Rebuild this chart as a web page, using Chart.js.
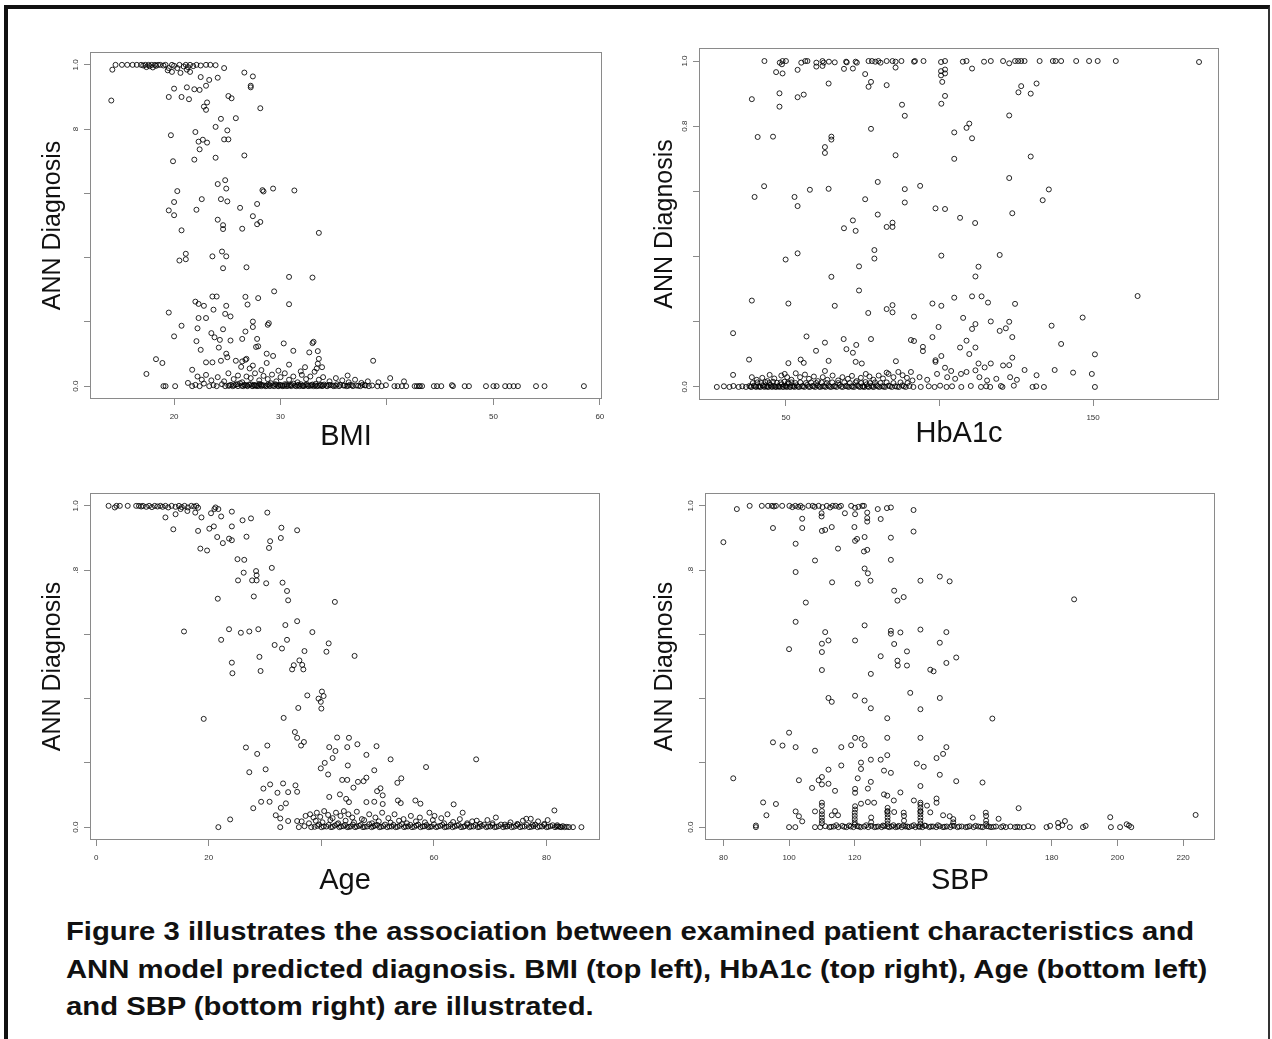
<!DOCTYPE html>
<html>
<head>
<meta charset="utf-8">
<script src="https://cdn.jsdelivr.net/npm/chart.js@4.4.1/dist/chart.umd.min.js"></script>
<style>
  html, body { margin: 0; padding: 0; background: #fff; }
  body { width: 1272px; height: 1039px; position: relative; overflow: hidden; }
  #frame { position: absolute; left: 4px; top: 5px; width: 1266px; height: 1100px; box-sizing: border-box;
           border-left: 4px solid #111; border-top: 4px solid #111; border-right: 2px solid #333; }
  .panel { position: absolute; }
  #caption { position: absolute; left: 66px; top: 913px; font: bold 25px "Liberation Sans", Arial, sans-serif;
             line-height: 37.5px; color: #111; white-space: nowrap; transform: scaleX(1.17); transform-origin: left top; }
</style>
</head>
<body>
<div id="frame"></div>
<div class="panel" style="left:0;top:0"><canvas id="bmiChart" width="636" height="460"></canvas></div>
<div class="panel" style="left:636px;top:0"><canvas id="hba1cChart" width="636" height="460"></canvas></div>
<div class="panel" style="left:0;top:460px"><canvas id="ageChart" width="636" height="445"></canvas></div>
<div class="panel" style="left:636px;top:460px"><canvas id="sbpChart" width="636" height="445"></canvas></div>
<div id="caption">Figure 3 illustrates the association between examined patient characteristics and<br>ANN model predicted diagnosis. BMI (top left), HbA1c (top right), Age (bottom left)<br>and SBP (bottom right) are illustrated.</div>
<script>
// y axis is shared by all four panels
const diagTicks = [0, 0.2, 0.4, 0.6, 0.8, 1.0];

// BMI vs ANN diagnosis (top left)
const bmiTicks = [20, 30, 40, 50, 60];
const bmiTickLabels = ['20', '30', '', '50', '60'];
const bmiDiagLabels = ['0.0', '', '', '', '8', '1.0'];
const bmiPoints = [
  [14.2,0.985],[14.5,1.0],[15.1,1.0],[15.6,1.0],[16.1,1.0],[16.5,1.0],[16.9,1.0],[17.1,0.998],[17.3,1.0],[17.4,0.993],
  [17.6,1.0],[17.7,0.996],[17.9,1.0],[18.0,0.992],[18.2,1.0],[18.3,0.997],[18.5,1.0],[18.7,1.0],[19.0,0.998],[19.2,1.0],
  [19.5,0.99],[19.8,1.0],[20.0,0.997],[20.3,0.99],[20.5,1.0],[20.9,0.995],[21.1,1.0],[21.3,0.993],[21.5,1.0],[21.8,0.996],
  [22.1,1.0],[22.5,0.998],[23.0,1.0],[23.4,1.0],[23.9,0.999],[24.7,0.99],[19.4,0.983],[19.8,0.978],[20.6,0.975],[21.2,0.985],
  [21.5,0.978],[26.6,0.976],[27.4,0.964],[22.5,0.962],[23.3,0.953],[24.1,0.96],[23.0,0.935],[21.9,0.924],[22.4,0.922],[21.2,0.93],
  [20.0,0.926],[27.2,0.935],[27.2,0.93],[19.5,0.90],[20.7,0.90],[21.4,0.893],[25.1,0.903],[25.4,0.896],[14.1,0.889],[23.1,0.883],
  [22.8,0.870],[23.0,0.860],[28.1,0.865],[24.4,0.832],[25.8,0.834],[23.9,0.807],[25.0,0.796],[19.7,0.781],[22.0,0.791],[22.3,0.761],
  [22.7,0.767],[23.1,0.758],[24.7,0.768],[25.1,0.768],[22.4,0.737],[26.6,0.718],[21.9,0.705],[23.9,0.711],[19.9,0.70],[24.1,0.629],
  [24.8,0.641],[24.9,0.615],[20.3,0.607],[28.4,0.606],[28.3,0.61],[29.3,0.615],[31.3,0.609],[22.6,0.582],[24.4,0.582],[25.0,0.575],
  [20.0,0.573],[19.5,0.547],[22.1,0.549],[26.2,0.555],[20.0,0.532],[27.4,0.529],[24.1,0.518],[27.8,0.567],[28.1,0.511],[27.8,0.504],
  [24.6,0.501],[24.6,0.489],[26.4,0.490],[20.7,0.485],[33.6,0.477],[21.1,0.412],[21.1,0.395],[20.5,0.391],[23.6,0.404],[24.5,0.419],
  [24.9,0.404],[24.6,0.367],[26.8,0.370],[30.8,0.340],[33.0,0.338],[29.4,0.295],[23.6,0.279],[24.0,0.279],[26.7,0.278],[27.9,0.274],
  [19.5,0.229],[22.0,0.263],[22.3,0.256],[22.8,0.250],[24.9,0.250],[26.9,0.254],[30.8,0.255],[23.7,0.238],[24.8,0.225],[25.3,0.217],
  [22.3,0.212],[23.0,0.212],[20.7,0.188],[27.4,0.201],[27.4,0.184],[28.9,0.196],[28.8,0.191],[22.2,0.180],[24.6,0.177],[26.7,0.170],
  [23.5,0.165],[23.8,0.152],[24.3,0.144],[20.0,0.155],[22.1,0.140],[25.3,0.142],[26.4,0.147],[27.8,0.147],[30.3,0.133],[33.0,0.134],
  [33.1,0.138],[22.5,0.113],[24.2,0.120],[27.7,0.122],[27.9,0.124],[31.2,0.110],[32.7,0.105],[33.5,0.109],[24.9,0.101],[25.0,0.090],
  [28.7,0.101],[29.3,0.094],[18.3,0.084],[18.9,0.072],[23.0,0.074],[23.6,0.074],[24.4,0.079],[25.8,0.079],[26.4,0.077],[26.7,0.082],
  [26.8,0.085],[27.4,0.064],[28.7,0.072],[30.8,0.067],[38.7,0.079],[17.4,0.038],[21.7,0.051],[32.3,0.059],[33.9,0.059],[36.3,0.033],
  [40.3,0.025],[41.6,0.015],
  [19.0,0],[19.2,0],[20.1,0],[21.3,0.01],[21.7,0],[22.0,0.004],[22.4,0],[22.8,0.008],[23.3,0],[23.7,0.003],
  [24.0,0],[24.5,0.006],[24.8,0],[25.2,0.002],[25.5,0],[25.8,0.005],[26.0,0],[26.2,0.009],[26.5,0],[26.7,0.003],
  [26.9,0],[27.2,0.006],[27.4,0],[27.6,0.002],[27.8,0],[28.0,0.007],[28.2,0],[28.3,0.003],[28.6,0],[28.8,0.005],
  [29.0,0],[29.1,0.009],[29.4,0],[29.6,0.004],[29.8,0],[30.0,0.002],[30.2,0],[30.4,0.006],[30.6,0],[30.9,0.003],
  [31.0,0],[31.2,0.008],[31.5,0],[31.7,0.004],[31.8,0],[32.1,0.002],[32.2,0],[32.5,0.006],[32.6,0],[32.9,0.003],
  [33.1,0],[33.3,0.007],[33.4,0],[33.7,0.002],[33.9,0],[34.1,0.005],[34.4,0],[34.7,0.003],[35.0,0],[35.3,0.006],
  [35.5,0],[35.9,0.002],[36.2,0],[36.5,0.004],[36.8,0],[37.1,0.002],[37.5,0],[37.9,0.003],[38.3,0],[38.6,0.002],
  [39.1,0],[39.5,0],[39.9,0.003],[40.7,0],[41.0,0],[41.4,0],[41.8,0],[42.6,0],[42.8,0],[43.0,0],
  [43.1,0],[43.3,0],[44.4,0],[44.7,0],[45.1,0],[46.1,0.003],[46.2,0],[47.3,0],[47.7,0],[49.3,0],
  [50.0,0],[50.3,0],[51.1,0],[51.5,0],[51.9,0],[52.3,0],[54.0,0],[54.8,0],[58.5,0],
  [25.1,0.001],[25.35,0.004],[25.65,0.002],[25.95,0.006],[26.35,0.001],[26.6,0.004],[26.85,0.002],[27.05,0.005],[27.3,0.001],[27.5,0.004],
  [27.7,0.002],[27.95,0.001],[28.15,0.005],[28.45,0.002],[28.7,0.001],[28.95,0.004],[29.25,0.002],[29.5,0.006],[29.75,0.001],[29.95,0.004],
  [30.15,0.002],[30.35,0.001],[30.55,0.005],[30.75,0.002],[31.05,0.004],[31.35,0.001],[31.6,0.003],[31.9,0.006],[32.05,0.001],[32.35,0.004],
  [32.55,0.002],[32.8,0.001],[33.0,0.005],[33.25,0.002],[33.55,0.001],[33.8,0.004],[34.0,0.002],[34.3,0.001],[34.55,0.004],[34.9,0.002],
  [35.2,0.001],[35.6,0.004],[36.0,0.002],[36.35,0.001],[36.7,0.003],[37.3,0.001],[37.7,0.004],[38.0,0.002],
  [22.2,0.03],[22.6,0.02],[23.0,0.035],[23.5,0.018],[24.1,0.028],[24.7,0.015],[25.1,0.04],[25.6,0.022],[26.0,0.033],[26.4,0.012],
  [26.8,0.03],[27.2,0.025],[27.6,0.04],[28.0,0.018],[28.4,0.032],[28.8,0.022],[29.2,0.036],[29.6,0.015],[30.0,0.028],[30.4,0.04],
  [30.8,0.02],[31.2,0.03],[31.6,0.012],[32.0,0.035],[32.4,0.022],[32.8,0.03],[33.2,0.045],[33.6,0.02],[34.0,0.028],[34.6,0.015],
  [35.2,0.025],[35.8,0.018],[36.4,0.012],[37.0,0.02],[37.6,0.01],[38.2,0.015],[39.2,0.012],[33.5,0.07],[33.4,0.055],[33.6,0.085],
  [28.2,0.05],[29.8,0.048],[31.9,0.046],[27.1,0.055],[26.3,0.06]
];

// HbA1c vs ANN diagnosis (top right)
const hba1cTicks = [50, 100, 150];
const hba1cTickLabels = ['50', '', '150'];
const hba1cDiagLabels = ['0.0', '', '', '', '0.8', '1.0'];
const hba1cPoints = [
  [43.0,1.0],[48.0,0.995],[48.9,1.0],[50.0,1.0],[55.0,0.995],[56.3,1.0],[57.0,1.0],[59.9,0.995],[61.9,1.0],[62.3,0.995],
  [64.0,0.998],[65.9,0.996],[69.6,0.998],[69.8,0.996],[72.7,0.998],[73.1,0.995],[76.9,1.0],[78.0,1.0],[79.1,0.998],[80.1,1.0],
  [80.8,0.995],[82.8,1.0],[84.7,1.0],[85.7,0.998],[87.6,1.0],[91.7,0.998],[92.0,1.0],[94.8,1.0],[100.5,0.997],[101.8,1.0],
  [107.6,0.998],[108.8,1.0],[114.5,0.998],[116.7,1.0],[120.7,1.0],[122.7,0.993],[124.6,1.0],[125.6,1.0],[126.6,1.0],[127.7,1.0],
  [132.6,1.0],[136.9,1.0],[137.8,1.0],[139.6,1.0],[144.5,1.0],[148.7,1.0],[151.5,1.0],[157.4,1.0],[184.5,0.997],
  [48.7,0.99],[59.9,0.983],[61.9,0.985],[68.9,0.976],[71.8,0.977],[85.7,0.98],[100.5,0.969],[101.8,0.974],[101.8,0.962],[110.6,0.977],
  [100.5,0.956],[100.9,0.936],[46.8,0.966],[48.9,0.962],[53.8,0.973],[75.8,0.960],[63.9,0.931],[76.9,0.921],[77.7,0.936],[82.8,0.926],
  [126.6,0.923],[131.6,0.931],[125.7,0.904],[129.7,0.900],[101.8,0.893],[38.9,0.883],[47.9,0.901],[53.8,0.889],[55.8,0.897],[47.9,0.860],
  [87.8,0.866],[88.7,0.832],[100.6,0.869],[122.7,0.833],
  [40.8,0.767],[45.8,0.768],[64.8,0.768],[64.8,0.759],[77.7,0.792],[108.8,0.795],[109.7,0.808],[104.8,0.781],[110.6,0.763],[62.7,0.736],
  [62.7,0.718],[85.7,0.711],[104.8,0.700],[129.7,0.707],[42.9,0.616],[39.8,0.583],[57.8,0.605],[63.9,0.608],[79.9,0.629],[88.7,0.607],
  [93.7,0.617],[122.7,0.641],[135.6,0.606],[133.6,0.573],[52.8,0.583],[53.8,0.555],[75.8,0.576],[88.7,0.566],[98.7,0.548],[101.8,0.546],
  [123.7,0.533],[79.9,0.529],[106.7,0.519],[111.6,0.503],[71.8,0.511],[68.9,0.487],[72.7,0.479],[82.8,0.491],[84.7,0.491],[84.7,0.504],
  [78.8,0.420],[78.8,0.394],[53.8,0.410],[49.9,0.391],[100.6,0.403],[119.6,0.405],[73.8,0.370],[112.7,0.369],[64.8,0.338],[111.7,0.339],
  [73.8,0.296],
  [38.9,0.265],[50.8,0.256],[65.9,0.249],[97.7,0.256],[100.6,0.249],[104.8,0.274],[110.6,0.278],[113.7,0.278],[115.8,0.259],[124.6,0.255],
  [164.5,0.279],[76.8,0.227],[82.8,0.239],[84.7,0.251],[84.7,0.229],[91.7,0.216],[107.7,0.212],[111.7,0.193],[110.6,0.178],[116.7,0.201],
  [119.6,0.172],[121.6,0.180],[122.7,0.200],[136.5,0.188],[146.6,0.213],[32.8,0.165],[56.7,0.155],[68.8,0.147],[77.7,0.147],[62.7,0.136],
  [72.9,0.129],[90.7,0.144],[91.7,0.141],[97.7,0.153],[99.7,0.184],[108.8,0.142],[123.7,0.153],[139.6,0.132],[59.8,0.111],[69.7,0.116],
  [71.8,0.105],[94.6,0.123],[94.6,0.110],[106.7,0.121],[111.7,0.121],[109.7,0.101],[38.0,0.084],[50.8,0.073],[54.8,0.084],[55.8,0.074],
  [63.9,0.080],[72.7,0.077],[74.7,0.072],[85.8,0.079],[98.7,0.077],[98.7,0.082],[100.6,0.095],[112.7,0.072],[114.7,0.060],[116.7,0.072],
  [120.7,0.066],[122.7,0.067],[123.7,0.090],[127.7,0.052],[137.5,0.052],[143.5,0.044],[149.6,0.040],[150.6,0.100],[131.6,0.036],[32.8,0.037],
  [44.7,0.037],[62.7,0.049],[82.8,0.044],[90.7,0.046],[101.8,0.059],[103.8,0.049],[108.8,0.046],[111.7,0.051],
  [38.9,0.03],[40.5,0.022],[42.3,0.028],[44.0,0.018],[46.2,0.026],[48.5,0.035],[49.6,0.04],[50.4,0.03],[51.8,0.022],[53.2,0.042],
  [54.6,0.03],[56.2,0.038],[57.5,0.025],[59.1,0.032],[60.4,0.018],[62.0,0.03],[63.5,0.022],[65.2,0.035],[67.0,0.02],[68.4,0.03],
  [70.2,0.025],[71.5,0.034],[73.0,0.018],[74.4,0.028],[76.0,0.04],[77.2,0.032],[78.5,0.022],[80.2,0.035],[81.6,0.026],[83.4,0.04],
  [85.0,0.03],[86.6,0.046],[88.0,0.036],[89.4,0.028],[91.2,0.02],[93.5,0.03],[96.0,0.022],[99.2,0.04],[102.5,0.03],[105.1,0.025],
  [107.0,0.04],[113.0,0.03],[115.5,0.02],[118.5,0.025],[123.0,0.03],[125.2,0.022],
  [27.5,0],[29.8,0.002],[31.6,0],[32.9,0.003],[34.6,0],[35.8,0.002],[37.0,0],[38.1,0.003],[38.8,0],[39.6,0.004],
  [40.3,0],[41.0,0.002],[41.7,0],[42.4,0.005],[43.0,0],[43.6,0.002],[44.3,0],[44.9,0.006],[45.5,0],[46.1,0.003],
  [46.8,0],[47.4,0.002],[48.0,0],[48.6,0.008],[49.2,0],[49.8,0.004],[50.3,0],[50.9,0.01],[51.5,0],[52.1,0.003],
  [52.8,0],[53.5,0.005],[54.3,0],[55.2,0.002],[56.0,0],[56.9,0.006],[57.8,0],[58.6,0.003],[59.5,0],[60.3,0.005],
  [61.2,0],[62.0,0.002],[62.9,0],[63.8,0.004],[64.7,0],[65.6,0.002],[66.5,0],[67.5,0.006],[68.5,0],[69.4,0.003],
  [70.4,0],[71.3,0.002],[72.2,0],[73.2,0.005],[74.1,0],[74.9,0.002],[75.6,0],[76.3,0.008],[77.0,0],[77.8,0.003],
  [78.6,0],[79.5,0.005],[80.4,0],[81.3,0.002],[82.3,0],[83.4,0.004],[84.5,0],[85.6,0.002],[86.8,0],[87.9,0.005],
  [89.0,0],[90.2,0.003],[91.5,0],[93.9,0],[96.5,0.002],[98.4,0],[100.2,0.004],[102.3,0],[104.1,0.002],[107.1,0],
  [110.2,0.003],[113.5,0],[115.2,0.002],[116.5,0],[120.0,0.003],[120.5,0],[124.2,0.004],[130.3,0],[131.5,0.002],[134.0,0],
  [150.6,0],
  [38.5,0.001],[39.2,0.012],[40.0,0.002],[40.7,0.014],[41.4,0.001],[42.0,0.012],[42.7,0.003],[43.3,0.015],[44.0,0.001],[44.6,0.012],
  [45.2,0.002],[45.8,0.016],[46.5,0.001],[47.1,0.013],[47.7,0.002],[48.3,0.014],[48.9,0.001],[49.5,0.016],[50.0,0.002],[50.6,0.012],
  [51.2,0.001],[51.8,0.014],[52.5,0.002],[53.1,0.012],[53.9,0.001],[54.7,0.014],[55.6,0.002],[56.5,0.012],[57.3,0.001],[58.2,0.014],
  [59.0,0.002],[59.9,0.012],[60.8,0.001],[61.6,0.014],[62.5,0.002],[63.3,0.012],[64.2,0.001],[65.1,0.014],[66.0,0.002],[67.0,0.012],
  [68.0,0.001],[69.0,0.014],[69.9,0.002],[70.8,0.012],[71.7,0.001],[72.7,0.014],[73.6,0.002],[74.5,0.012],[75.2,0.001],[75.9,0.015],
  [76.6,0.002],[77.4,0.012],[78.2,0.001],[79.0,0.014],[79.9,0.002],[80.8,0.012],[81.8,0.001],[82.8,0.014],[83.9,0.002],[85.0,0.012],
  [86.2,0.001],[87.3,0.014],[88.4,0.002],[89.6,0.012]
];

// Age vs ANN diagnosis (bottom left)
const ageTicks = [0, 20, 40, 60, 80];
const ageTickLabels = ['0', '20', '', '60', '80'];
const ageDiagLabels = ['0.0', '', '', '', '.8', '1.0'];
const agePoints = [
  [2.2,1.0],[3.3,0.995],[3.6,1.0],[4.2,1.0],[5.6,1.0],[7.1,1.0],[7.6,1.0],[8.0,0.998],[8.3,1.0],[8.9,0.997],
  [9.4,1.0],[9.9,0.996],[10.4,1.0],[10.9,0.998],[11.4,1.0],[11.8,0.997],[12.3,1.0],[12.8,0.995],[13.4,1.0],[14.1,0.997],
  [14.7,1.0],[15.2,0.996],[15.7,1.0],[16.3,0.995],[16.9,1.0],[17.4,0.998],[17.8,1.0],[18.1,0.994],[21.0,0.99],[21.2,0.995],
  [12.3,0.964],[13.7,0.927],[14.1,0.974],[15.0,0.99],[16.2,0.984],[17.6,0.979],[18.7,0.964],[20.4,0.977],[22.2,0.967],[21.7,0.99],
  [24.1,0.982],[18.1,0.922],[20.1,0.929],[20.9,0.936],[24.1,0.936],[26.0,0.955],[27.5,0.961],[30.4,0.979],[21.5,0.903],[22.5,0.884],
  [23.6,0.898],[24.1,0.893],[26.7,0.904],[30.9,0.890],[32.8,0.900],[32.9,0.932],[35.7,0.924],[30.7,0.869],[18.5,0.867],[19.7,0.861],
  [25.1,0.834],[26.3,0.832],[31.2,0.807],[26.2,0.792],[28.4,0.797],[28.5,0.784],[27.7,0.768],[28.5,0.768],[25.2,0.768],[30.2,0.759],
  [33.1,0.761],[33.9,0.735],[34.1,0.706],[28.0,0.718],[21.6,0.711],[42.4,0.701],
  [33.6,0.629],[35.7,0.641],[23.6,0.616],[25.7,0.605],[27.2,0.609],[28.8,0.616],[38.4,0.607],[15.6,0.609],[22.2,0.583],[31.7,0.567],
  [33.9,0.583],[33.0,0.556],[41.3,0.572],[40.9,0.546],[37.0,0.548],[45.9,0.533],[29.0,0.530],[24.1,0.512],[36.1,0.519],[36.6,0.505],
  [35.1,0.504],[34.8,0.491],[36.8,0.491],[29.2,0.486],[24.2,0.479],[37.5,0.410],[39.5,0.400],[40.4,0.408],[40.1,0.422],[39.9,0.390],
  [40.0,0.369],[35.9,0.371],[33.3,0.340],[19.1,0.337],
  [35.3,0.296],[35.7,0.278],[36.9,0.265],[36.4,0.254],[42.8,0.279],[44.9,0.278],[41.4,0.249],[42.5,0.237],[44.6,0.249],[46.4,0.258],
  [49.8,0.252],[26.6,0.248],[30.4,0.254],[28.6,0.228],[48.0,0.225],[52.3,0.211],[67.5,0.211],[42.0,0.215],[40.6,0.200],[39.9,0.183],
  [44.7,0.192],[58.6,0.187],[27.2,0.171],[30.1,0.180],[49.4,0.177],[41.2,0.164],[43.7,0.147],[44.6,0.147],[46.5,0.141],[47.5,0.143],
  [48.0,0.154],[54.2,0.152],[53.5,0.138],[30.9,0.133],[33.2,0.136],[35.4,0.130],[45.7,0.123],[29.7,0.120],[50.5,0.121],[49.9,0.112],
  [32.2,0.107],[34.1,0.109],[35.7,0.110],[50.9,0.099],[41.4,0.094],[43.3,0.102],[44.4,0.088],[44.9,0.078],[29.3,0.079],[30.8,0.079],
  [33.7,0.074],[32.8,0.060],[27.9,0.059],[48.0,0.078],[49.4,0.079],[50.9,0.072],[53.6,0.083],[54.1,0.075],[56.7,0.083],[57.6,0.073],
  [63.5,0.071],[65.1,0.045],[81.4,0.052],[67.6,0.020],[76.4,0.026],[77.2,0.026],[31.9,0.037],[32.7,0.027],[34.1,0.019],[35.7,0.019],
  [23.8,0.024],[21.7,0],[32.7,0],
  [37.2,0.035],[38.0,0.04],[38.6,0.03],[39.2,0.045],[39.8,0.032],[40.5,0.05],[41.2,0.038],[42.0,0.028],[42.6,0.045],[43.4,0.035],
  [44.0,0.05],[44.8,0.04],[45.5,0.03],[46.3,0.048],[47.2,0.025],[48.5,0.04],[49.6,0.03],[50.8,0.045],[51.9,0.028],[53.0,0.04],
  [54.6,0.025],[55.9,0.035],[57.5,0.03],[59.2,0.045],[60.1,0.035],[61.3,0.028],[62.4,0.04],[64.6,0.025],[66.8,0.018],[69.5,0.022],
  [71.0,0.03],[73.6,0.015],[75.8,0.02],[78.5,0.018],[80.2,0.022],
  [36.5,0.018],[37.8,0.012],[39.0,0.02],[40.2,0.015],[41.6,0.022],[43.0,0.012],[44.3,0.02],[45.8,0.015],[47.6,0.022],[49.0,0.012],
  [50.2,0.018],[52.3,0.014],[53.8,0.02],[55.2,0.012],[56.8,0.018],[58.4,0.015],[59.8,0.022],[61.8,0.012],[63.4,0.016],[65.9,0.012],
  [68.2,0.01],[70.4,0.012],[72.6,0.008],[74.8,0.01],[77.5,0.008],[79.6,0.01],[81.9,0.006],
  [36.0,0],[37.0,0.003],[38.2,0],[39.3,0.004],[40.0,0],[40.9,0.002],[41.7,0],[42.4,0.005],[43.2,0],[43.9,0.003],
  [44.6,0],[45.2,0.002],[46.0,0],[46.7,0.004],[47.4,0],[48.1,0.002],[48.9,0],[49.5,0.005],[50.3,0],[51.0,0.003],
  [51.7,0],[52.5,0.002],[53.2,0],[53.9,0.004],[54.7,0],[55.4,0.002],[56.1,0],[56.9,0.005],[57.6,0],[58.3,0.003],
  [59.0,0],[59.6,0.002],[60.4,0],[61.1,0.004],[61.9,0],[62.6,0.002],[63.3,0],[64.1,0.005],[64.8,0],[65.5,0.003],
  [66.3,0],[67.0,0.002],[67.8,0],[68.5,0.004],[69.3,0],[70.0,0.002],[70.8,0],[71.5,0.003],[72.3,0],[73.0,0.002],
  [73.8,0],[74.6,0.004],[75.3,0],[76.1,0.002],[76.9,0],[77.7,0.003],[78.4,0],[79.2,0.002],[80.0,0],[80.7,0.003],
  [81.5,0],[82.1,0.002],[82.6,0],[83.2,0],[84.0,0],[84.7,0],[86.2,0],
  [38.8,0.001],[39.6,0.008],[40.4,0.002],[41.3,0.007],[42.0,0.001],[42.8,0.009],[43.5,0.002],[44.2,0.007],[44.9,0.001],[45.6,0.008],
  [46.3,0.002],[47.0,0.007],[47.7,0.001],[48.5,0.009],[49.2,0.002],[49.9,0.007],[50.6,0.001],[51.3,0.008],[52.1,0.002],[52.8,0.007],
  [53.5,0.001],[54.3,0.009],[55.0,0.002],[55.8,0.007],[56.5,0.001],[57.2,0.008],[58.0,0.002],[58.7,0.007],[59.3,0.001],[60.0,0.009],
  [60.7,0.002],[61.5,0.007],[62.2,0.001],[63.0,0.008],[63.7,0.002],[64.4,0.007],[65.2,0.001],[65.9,0.008],[66.6,0.002],[67.4,0.007],
  [68.1,0.001],[68.9,0.008],[69.6,0.002],[70.4,0.007],[71.1,0.001],[71.9,0.008],[72.7,0.002],[73.4,0.007],[74.2,0.001],[74.9,0.008],
  [75.7,0.002],[76.5,0.007],[77.3,0.001],[78.0,0.008],[78.8,0.002],[79.6,0.007],[80.3,0.001],[81.1,0.006],[81.8,0.002],[82.4,0.001],
  [82.9,0.003],[83.6,0.001]
];

// SBP vs ANN diagnosis (bottom right)
const sbpTicks = [80, 100, 120, 140, 160, 180, 200, 220];
const sbpTickLabels = ['80', '100', '120', '', '', '180', '200', '220'];
const sbpDiagLabels = ['0.0', '', '', '', '.8', '1.0'];
const sbpPoints = [
  [84.1,0.99],[88.0,1.0],[91.7,1.0],[93.6,1.0],[94.8,1.0],[95.4,0.998],[96.0,1.0],[97.9,1.0],[100.1,1.0],[101.0,0.996],
  [101.9,1.0],[102.8,0.997],[103.5,1.0],[104.1,0.995],[105.9,1.0],[107.2,1.0],[107.8,0.997],[109.0,1.0],[110.2,0.996],[111.5,1.0],
  [112.5,0.995],[113.3,1.0],[114.2,1.0],[115.2,0.997],[115.8,1.0],[118.9,1.0],[120.1,0.994],[121.1,0.997],[122.3,1.0],[122.8,1.0],
  [127.0,0.99],[129.8,0.993],[131.0,0.995],[137.9,0.987],
  [80.0,0.887],[109.9,0.977],[109.9,0.967],[117.0,0.977],[120.1,0.974],[123.8,0.979],[123.8,0.962],[123.8,0.951],[127.9,0.959],[104.0,0.960],
  [104.0,0.931],[95.1,0.931],[110.0,0.922],[111.0,0.925],[113.0,0.934],[119.9,0.934],[137.9,0.920],[102.0,0.882],[120.1,0.891],[120.7,0.897],
  [123.0,0.903],[131.0,0.901],[114.9,0.867],[122.8,0.858],[123.8,0.863],[131.0,0.832],[107.9,0.830],[123.0,0.805],[124.0,0.790],[102.0,0.794],
  [113.1,0.762],[120.9,0.758],[124.8,0.767],[140.0,0.767],[145.9,0.780],[148.9,0.765],[132.0,0.736],[134.9,0.716],[133.0,0.705],[105.1,0.699],
  [186.8,0.709],
  [102.0,0.639],[123.0,0.628],[111.0,0.607],[131.0,0.611],[131.0,0.602],[133.9,0.606],[140.0,0.615],[147.9,0.607],[112.0,0.581],[120.1,0.581],
  [110.0,0.571],[132.0,0.570],[145.9,0.574],[100.0,0.554],[110.0,0.545],[135.9,0.547],[127.9,0.532],[133.0,0.518],[133.1,0.503],[135.9,0.503],
  [147.9,0.511],[150.9,0.528],[110.0,0.489],[124.9,0.477],[143.0,0.490],[144.0,0.485],[136.9,0.418],[112.0,0.402],[113.0,0.390],[120.1,0.409],
  [123.0,0.394],[145.9,0.402],[124.9,0.370],[140.0,0.367],[129.9,0.339],[161.9,0.338],
  [100.0,0.294],[95.1,0.264],[98.0,0.254],[102.0,0.249],[107.9,0.238],[115.9,0.249],[118.9,0.255],[120.1,0.278],[122.1,0.275],[123.0,0.255],
  [129.9,0.278],[140.0,0.278],[147.9,0.249],[146.9,0.228],[144.9,0.215],[129.9,0.224],[127.9,0.210],[124.9,0.210],[121.9,0.201],[121.9,0.181],
  [138.9,0.198],[141.0,0.188],[115.9,0.192],[112.0,0.179],[128.9,0.176],[131.0,0.169],[145.9,0.163],[83.0,0.152],[103.0,0.146],[109.0,0.146],
  [110.0,0.156],[120.9,0.152],[124.9,0.141],[150.9,0.143],[158.9,0.139],[107.0,0.122],[110.0,0.133],[112.0,0.135],[114.0,0.113],[120.1,0.119],
  [120.1,0.107],[124.0,0.120],[140.0,0.128],[128.9,0.102],[129.9,0.098],[133.9,0.108],[131.9,0.083],[138.0,0.083],[140.0,0.076],[142.0,0.067],
  [144.9,0.089],[144.9,0.076],[92.1,0.077],[96.0,0.072],[110.0,0.076],[110.0,0.067],[120.1,0.065],[121.9,0.073],[124.0,0.078],[125.9,0.076],
  [93.1,0.037],[102.0,0.049],[103.0,0.034],[104.0,0.018],[107.9,0.049],[110.0,0.050],[114.0,0.050],[114.9,0.037],[113.0,0.037],[120.1,0.055],
  [129.9,0.048],[132.0,0.047],[134.9,0.045],[140.0,0.048],[143.0,0.046],[146.9,0.037],[148.9,0.034],[155.9,0.030],[159.9,0.045],[169.9,0.059],
  [184.0,0.019],[197.8,0.031],[223.8,0.038],[163.8,0.026],[181.9,0.013],[202.8,0.009],
  [110,0.04],[110,0.03],[110,0.02],[110,0.012],[120,0.045],[120,0.035],[120,0.025],[120,0.015],[120,0.008],[130,0.06],
  [130,0.05],[130,0.04],[130,0.03],[130,0.02],[130,0.01],[140,0.07],[140,0.06],[140,0.05],[140,0.04],[140,0.03],
  [140,0.02],[140,0.01],[150,0.025],[150,0.015],[160,0.035],[160,0.02],[160,0.01],[125,0.03],[125,0.015],[135,0.035],
  [135,0.02],
  [89.9,0.005],[89.9,0],[100.0,0],[101.9,0],[107.9,0],[109.5,0],[111.0,0.003],[112.3,0],[113.6,0.002],[115.0,0],
  [116.2,0.004],[117.5,0],[118.8,0.002],[119.6,0],[120.8,0.003],[121.8,0],[122.9,0.002],[124.1,0],[125.0,0.004],[126.0,0],
  [127.1,0.002],[128.2,0],[129.0,0.003],[130.5,0],[131.3,0.002],[132.4,0],[133.4,0.004],[134.3,0],[135.4,0.002],[136.5,0],
  [137.4,0.003],[138.5,0],[139.4,0.002],[140.6,0],[141.6,0.004],[142.7,0],[143.8,0.002],[144.8,0],[145.8,0.003],[146.9,0],
  [148.0,0.002],[149.1,0],[150.2,0.004],[151.3,0],[152.6,0.002],[153.8,0],[155.0,0.003],[156.2,0],[157.6,0.002],[159.0,0],
  [160.2,0.003],[161.5,0],[163.0,0.002],[164.6,0],[166.0,0],[167.4,0.002],[168.8,0],[170.2,0],[171.5,0],[172.8,0.003],
  [174.2,0],[178.4,0],[179.5,0.004],[182.0,0],[183.2,0.006],[185.5,0],[189.5,0],[190.3,0.004],[198.0,0],[200.8,0],
  [203.5,0.005],[204.2,0],
  [112.8,0.001],[114.4,0.006],[116.8,0.001],[118.3,0.005],[121.3,0.002],[123.5,0.006],[126.5,0.001],[128.6,0.005],[130.0,0.002],[131.8,0.006],
  [133.0,0.001],[134.8,0.005],[136.0,0.002],[138.0,0.006],[139.8,0.001],[141.2,0.005],[143.2,0.002],[145.3,0.006],[147.4,0.001],[149.6,0.005],
  [151.8,0.002],[154.4,0.001],[156.8,0.004],[158.4,0.001],[160.8,0.002],[162.3,0.001],[165.2,0.003],[169.5,0.001]
];

Chart.defaults.font.family = '"Liberation Sans", Arial, Helvetica, sans-serif';
Chart.defaults.color = '#222';

// grey frame round the plotting region, like R's box()
const plotBox = {
  id: 'plotBox',
  afterDatasetsDraw(chart) {
    const ctx = chart.ctx;
    const a = chart.chartArea;
    ctx.save();
    ctx.strokeStyle = '#8a8a8a';
    ctx.lineWidth = 1;
    ctx.strokeRect(a.left + 0.5, a.top + 0.5, a.right - a.left - 1, a.bottom - a.top - 1);
    ctx.restore();
  }
};

function makePanel(id, points, xMin, xMax, xTicks, xLabels, yLabels, xTitle, area, titlePad) {
  const canvas = document.getElementById(id);
  const W = canvas.width, H = canvas.height;
  return new Chart(canvas.getContext('2d'), {
    type: 'scatter',
    data: {
      datasets: [{
        data: points.map(p => ({ x: p[0], y: p[1] })),
        pointStyle: 'circle',
        pointRadius: 2.5,
        borderWidth: 1,
        borderColor: 'rgba(0,0,0,0.85)',
        backgroundColor: 'rgba(0,0,0,0)'
      }]
    },
    options: {
      responsive: false,
      animation: false,
      events: [],
      layout: { padding: { left: 0, top: area.top, right: W - area.right, bottom: 0 } },
      plugins: { legend: { display: false }, tooltip: { enabled: false } },
      scales: {
        x: {
          type: 'linear', position: 'bottom', min: xMin, max: xMax,
          afterBuildTicks: s => { s.ticks = xTicks.map(v => ({ value: v })); },
          afterFit: s => { s.height = H - area.bottom; },
          grid: { drawOnChartArea: false, drawTicks: true, tickLength: 6, color: '#8a8a8a' },
          border: { display: false },
          ticks: { autoSkip: false, maxRotation: 0, padding: 7, font: { size: 8 }, color: '#333',
                   callback: (v, i) => xLabels[i] },
          title: { display: true, text: xTitle, font: { size: 29 }, color: '#111',
                   padding: { top: 0, bottom: titlePad.x } }
        },
        y: {
          type: 'linear', min: -0.04, max: 1.04,
          afterBuildTicks: s => { s.ticks = diagTicks.map(v => ({ value: v })); },
          afterFit: s => { s.width = area.left; },
          grid: { drawOnChartArea: false, drawTicks: true, tickLength: 6, color: '#8a8a8a' },
          border: { display: false },
          ticks: { autoSkip: false, minRotation: 90, maxRotation: 90, crossAlign: 'center', padding: 3,
                   font: { size: 8 }, color: '#333', callback: (v, i) => yLabels[i] },
          title: { display: true, text: 'ANN Diagnosis', font: { size: 25 }, color: '#111',
                   padding: { top: titlePad.y, bottom: 0 } }
        }
      }
    },
    plugins: [plotBox]
  });
}

makePanel('bmiChart', bmiPoints, 12.1, 60.2, bmiTicks, bmiTickLabels, bmiDiagLabels, 'BMI',
  { left: 90, right: 602, top: 52, bottom: 399 }, { x: 5.5, y: 38 });
makePanel('hba1cChart', hba1cPoints, 21.7, 191, hba1cTicks, hba1cTickLabels, hba1cDiagLabels, 'HbA1c',
  { left: 63, right: 583, top: 48, bottom: 400 }, { x: 8.5, y: 14.5 });
makePanel('ageChart', agePoints, -1.1, 89.5, ageTicks, ageTickLabels, ageDiagLabels, 'Age',
  { left: 90, right: 600, top: 33, bottom: 380 }, { x: 7, y: 38 });
makePanel('sbpChart', sbpPoints, 74.4, 229.7, sbpTicks, sbpTickLabels, sbpDiagLabels, 'SBP',
  { left: 69, right: 579, top: 33, bottom: 380 }, { x: 6.5, y: 14.5 });
</script>
</body>
</html>
